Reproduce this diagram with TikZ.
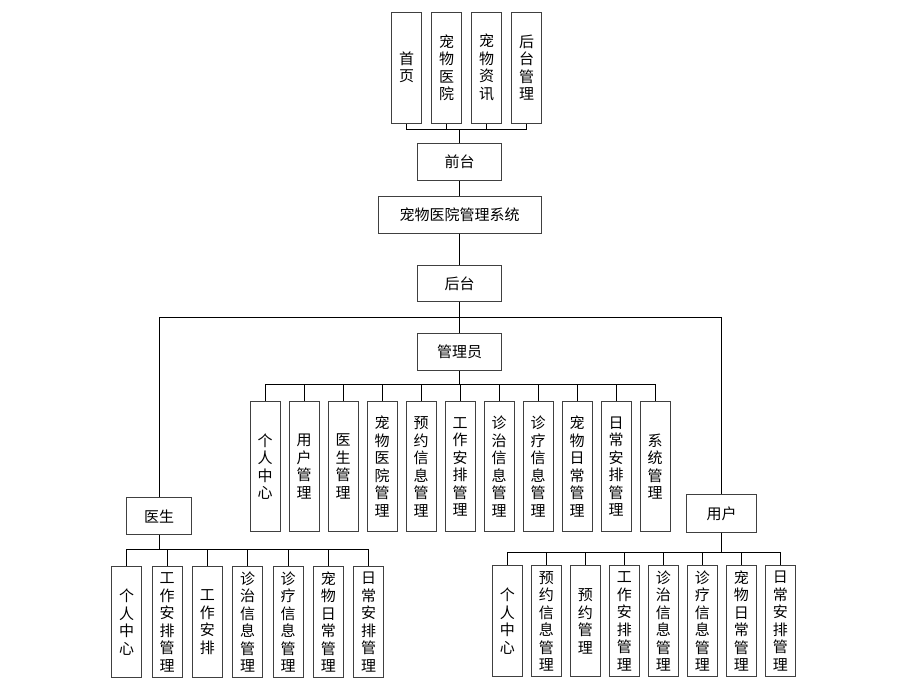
\documentclass[tikz,border=0pt]{standalone}
\usepackage{fontspec}
\setmainfont{Noto Sans CJK SC}
\begin{document}
\begin{tikzpicture}
[x=1pt,y=-1pt,line width=1pt,%
  every node/.style={draw=black!75,line width=1pt,inner sep=0pt,align=center,%
    font=\fontsize{15}{17.5}\selectfont},%
  hbox/.style={minimum width=84pt,minimum height=37.5pt},%
  vbox/.style={minimum width=30pt,minimum height=111pt},%
  tallbox/.style={minimum width=30pt,minimum height=130pt}]
\useasboundingbox (0,0) rectangle (910,680);
% front end
\foreach \t [count=\i] in {{首\\页},{宠\\物\\医\\院},{宠\\物\\资\\讯},{后\\台\\管\\理}}
  \node[vbox] (t\i) at (366.5+40*\i,67.5) {\t};
\node[hbox] (qt) at (459.5,162) {前台};
\node[hbox,minimum width=163pt,minimum height=36.5pt] (xt) at (459.5,215) {宠物医院管理系统};
\node[hbox,minimum height=36.5pt] (ht) at (459.5,283.3) {后台};
\foreach \i in {1,...,4}
  \draw (qt.north) -- ++(0,-13) -| (t\i.south);
\draw (qt) -- (xt);
\draw (xt) -- (ht);
% back end
\node[hbox] (gly) at (459.5,352) {管理员};
\node[hbox,minimum width=65pt] (ys) at (159.2,516.2) {医生};
\node[hbox,minimum width=70pt] (yh) at (721.5,513.7) {用户};
\draw (ht.south) -- ++(0,15) coordinate (bb);
\draw (ys.north) |- (bb) -| (yh.north);
\draw (bb) -- (gly.north);
% administrator
\foreach \t [count=\i] in {{个\\人\\中\\心},{用\\户\\管\\理},{医\\生\\管\\理},%
    {宠\\物\\医\\院\\管\\理},{预\\约\\信\\息\\管\\理},{工\\作\\安\\排\\管\\理},%
    {诊\\治\\信\\息\\管\\理},{诊\\疗\\信\\息\\管\\理},{宠\\物\\日\\常\\管\\理},%
    {日\\常\\安\\排\\管\\理},{系\\统\\管\\理}}
{
  \node[tallbox] (g\i) at (226+39*\i,466.7) {\t};
  \draw (gly.south) -- ++(0,13.5) -| (g\i.north);
}
% doctor
\foreach \t [count=\i] in {{个\\人\\中\\心},{工\\作\\安\\排\\管\\理},{工\\作\\安\\排},%
    {诊\\治\\信\\息\\管\\理},{诊\\疗\\信\\息\\管\\理},{宠\\物\\日\\常\\管\\理},%
    {日\\常\\安\\排\\管\\理}}
{
  \node[vbox] (y\i) at (86.4+40.33*\i,622.2) {\t};
  \draw (ys.south) -- ++(0,14.3) -| (y\i.north);
}
% user
\foreach \t [count=\i] in {{个\\人\\中\\心},{预\\约\\信\\息\\管\\理},{预\\约\\管\\理},%
    {工\\作\\安\\排\\管\\理},{诊\\治\\信\\息\\管\\理},{诊\\疗\\信\\息\\管\\理},%
    {宠\\物\\日\\常\\管\\理},{日\\常\\安\\排\\管\\理}}
{
  \node[vbox] (u\i) at (468.3+39*\i,621.2) {\t};
  \draw (yh.south) -- ++(0,19.4) -| (u\i.north);
}
\end{tikzpicture}
\end{document}
